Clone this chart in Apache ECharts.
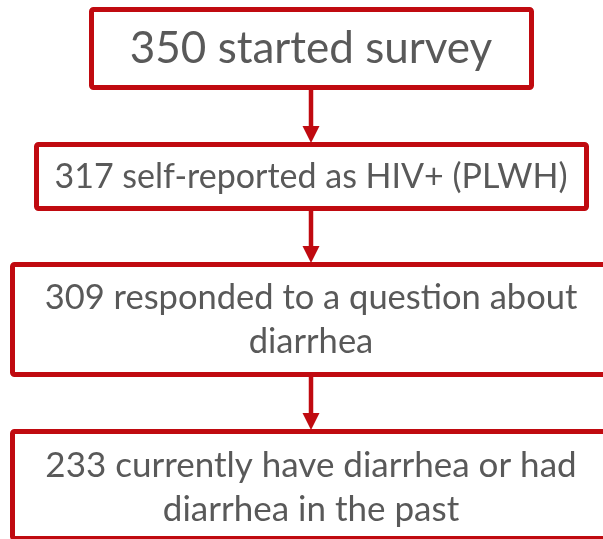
<!DOCTYPE html>
<html>
<head>
<meta charset="utf-8">
<script src="https://cdn.jsdelivr.net/npm/echarts@6/dist/echarts.min.js"></script>
<style>
  html, body { margin: 0; padding: 0; background: #fff; }
  #chart { width: 603px; height: 539px; }
</style>
</head>
<body>
<div id="chart"></div>
<script>
// flow steps (data)
const counts = [350, 317, 309, 233]
const labels = [
  'started survey',
  'self-reported as HIV+ (PLWH)',
  'responded to a question about\ndiarrhea',
  'currently have diarrhea or had\ndiarrhea in the past'
]

// layout of the boxes, in page pixels (outer edge of the red border)
const boxLeft = [89, 34, 10, 10]
const boxRight = [534, 589, 640, 640]
const boxTop = [7, 142, 262, 429]
const boxBottom = [90, 211, 377, 541]
const fontSizes = [44, 34, 34.5, 35]
const textY = [49, 177, 320, 488]

const RED = '#c00a10'
const GREY = '#595959'
const LW = 5
const ARROW_X = 311

const chartDom = document.getElementById('chart')
const myChart = echarts.init(chartDom)

function renderItem(params, api) {
  const i = api.value(0)
  const tl = api.coord([boxLeft[i] + LW / 2, boxTop[i] + LW / 2])
  const br = api.coord([boxRight[i] - LW / 2, boxBottom[i] - LW / 2])
  const c = api.coord([ARROW_X, textY[i]])
  const children = [
    {
      type: 'rect',
      shape: { x: tl[0], y: tl[1], width: br[0] - tl[0], height: br[1] - tl[1], r: 2 },
      style: { fill: '#fff', stroke: RED, lineWidth: LW }
    },
    {
      type: 'text',
      style: {
        text: counts[i] + ' ' + labels[i],
        x: c[0],
        y: c[1],
        align: 'center',
        verticalAlign: 'middle',
        fontFamily: 'Lato',
        fontSize: fontSizes[i],
        lineHeight: 44,
        fill: GREY
      }
    }
  ]
  // arrow to the next step
  if (i < counts.length - 1) {
    const a = api.coord([ARROW_X, boxBottom[i]])
    const b = api.coord([ARROW_X, boxTop[i + 1]])
    const head = 16
    children.push({
      type: 'line',
      shape: { x1: a[0], y1: a[1] - 1, x2: b[0], y2: b[1] - head + 1 },
      style: { stroke: RED, lineWidth: 4.5 }
    })
    children.push({
      type: 'polygon',
      shape: { points: [[b[0] - 8.5, b[1] - head], [b[0] + 8.5, b[1] - head], [b[0], b[1] + 1]] },
      style: { fill: RED }
    })
  }
  return { type: 'group', children: children }
}

const option = {
  animation: false,
  grid: { left: 0, right: 0, top: 0, bottom: 0 },
  xAxis: { type: 'value', min: 0, max: 603, show: false },
  yAxis: { type: 'value', min: 0, max: 539, inverse: true, show: false },
  series: [
    {
      type: 'custom',
      renderItem: renderItem,
      clip: true,
      data: counts.map((v, i) => [i, v])
    }
  ]
}

myChart.setOption(option)
</script>
</body>
</html>
